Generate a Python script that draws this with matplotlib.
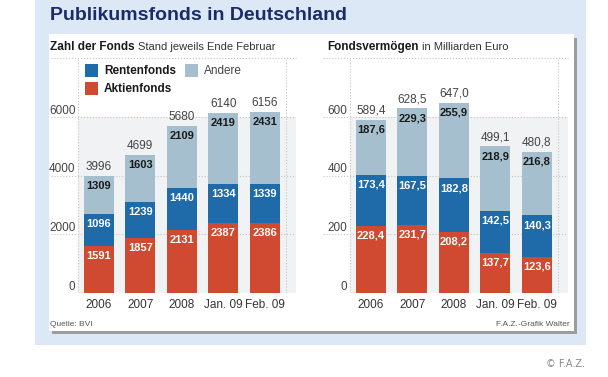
import matplotlib
matplotlib.use("Agg")
import matplotlib.pyplot as plt
from matplotlib.patches import Rectangle

# data
years = ["2006", "2007", "2008", "Jan. 09", "Feb. 09"]

fonds_aktien = [1591, 1857, 2131, 2387, 2386]
fonds_renten = [1096, 1239, 1440, 1334, 1339]
fonds_andere = [1309, 1603, 2109, 2419, 2431]
fonds_total = [3996, 4699, 5680, 6140, 6156]
fonds_ticks = [0, 2000, 4000, 6000]

verm_aktien = [228.4, 231.7, 208.2, 137.7, 123.6]
verm_renten = [173.4, 167.5, 182.8, 142.5, 140.3]
verm_andere = [187.6, 229.3, 255.9, 218.9, 216.8]
verm_total = [589.4, 628.5, 647.0, 499.1, 480.8]
verm_ticks = [0, 200, 400, 600]

RED = "#cf4a30"
BLUE = "#1f6aa8"
GREY = "#a5bfce"
NAVY = "#1b2a6b"
FONT = ["Liberation Sans Narrow", "Liberation Sans", "DejaVu Sans"]

W, H = 608, 377
fig = plt.figure(figsize=(W / 100, H / 100), dpi=100)
fig.patch.set_facecolor("white")


def px(x0, y0, x1, y1):
    # pixel box (top-left origin) -> figure fraction rect
    return [x0 / W, 1 - y1 / H, (x1 - x0) / W, (y1 - y0) / H]


def box(x0, y0, x1, y1, color, z=0):
    r = px(x0, y0, x1, y1)
    fig.patches.append(Rectangle((r[0], r[1]), r[2], r[3], transform=fig.transFigure,
                                 facecolor=color, edgecolor="none", zorder=z))


def ftext(x, y, s, **kw):
    kw.setdefault("family", FONT)
    return fig.text(x / W, 1 - y / H, s, **kw)


def text_after(t, gap, s, **kw):
    # place a second text right after t
    fig.canvas.draw()
    bb = t.get_window_extent()
    return ftext(bb.x1 + gap, 47, s, **kw)


# background panels
box(35, 0, 586, 345, "#dde8f6", 0)
box(52, 38, 577, 334, "#9c9c9c", 1)
box(49, 34, 574, 331, "white", 2)

ftext(50, 16, "Publikumsfonds in Deutschland", fontsize=14, weight="bold",
      color=NAVY, va="center", zorder=5)

t1 = ftext(50, 47, "Zahl der Fonds", fontsize=8.5, weight="bold", color="#1a1a1a",
           va="center", zorder=5)
text_after(t1, 3, "Stand jeweils Ende Februar", fontsize=8, color="#333333",
           va="center", zorder=5)
t2 = ftext(327, 47, "Fondsvermögen", fontsize=8.5, weight="bold", color="#1a1a1a",
           va="center", zorder=5)
text_after(t2, 3, "in Milliarden Euro", fontsize=8, color="#333333",
           va="center", zorder=5)

ftext(50, 324, "Quelle: BVI", fontsize=6, color="#555555", va="center", zorder=5)
ftext(570, 324, "F.A.Z.-Grafik Walter", fontsize=6, color="#555555",
      va="center", ha="right", zorder=5)
ftext(585, 364, "© F.A.Z.", fontsize=7, color="#888888", va="center", ha="right",
      family=["DejaVu Sans"])


def fmt(v, dec):
    if dec:
        return f"{v:.1f}".replace(".", ",")
    return str(v)


def draw(left, ymax, aktien, renten, andere, total, ticks, dec):
    ax = fig.add_axes(px(left, 58, left + 245, 293))
    ax.set_zorder(3)
    ax.patch.set_alpha(0)
    ax.set_xlim(-1.15, 4.75)
    ax.set_ylim(0, ymax)
    for s in ax.spines.values():
        s.set_visible(False)
    ax.set_xticks([])
    ax.set_yticks([])

    # plot area
    ax.add_patch(Rectangle((-0.5, 0), 5.25, ticks[-1], facecolor="#f1f2f3",
                           edgecolor="none", zorder=0))
    for t in ticks:
        ax.axhline(t, color="#c4c4c4", lw=0.8, ls=":", zorder=1)
        ax.text(-0.56, t, str(t), ha="right", va="bottom", fontsize=8.5,
                color="#444444", family=FONT)
    ax.axhline(ymax, color="#c4c4c4", lw=0.8, ls=":", zorder=1, clip_on=False)
    for xv in (-0.5, 4.5):
        ax.axvline(xv, color="#c4c4c4", lw=0.8, ls=":", zorder=1)

    x = list(range(len(years)))
    b1 = [a + r for a, r in zip(aktien, renten)]
    ax.bar(x, aktien, width=0.72, color=RED, zorder=2)
    ax.bar(x, renten, width=0.72, bottom=aktien, color=BLUE, zorder=2)
    ax.bar(x, andere, width=0.72, bottom=b1, color=GREY, zorder=2)

    for i in x:
        tops = [aktien[i], b1[i], b1[i] + andere[i]]
        vals = [aktien[i], renten[i], andere[i]]
        cols = ["white", "white", "#1a1a1a"]
        for top, v, c in zip(tops, vals, cols):
            ax.annotate(fmt(v, dec), (i, top), xytext=(0, -10), textcoords="offset pixels",
                        ha="center", va="center", fontsize=8, weight="bold",
                        color=c, family=FONT, zorder=4)
        ax.annotate(fmt(total[i], dec), (i, tops[2]), xytext=(0, 9),
                    textcoords="offset pixels", ha="center", va="center",
                    fontsize=8.5, color="#444444", family=FONT, zorder=4)
        ax.annotate(years[i], (i, 0), xytext=(0, -12), textcoords="offset pixels",
                    ha="center", va="center", fontsize=8.5, color="#333333",
                    family=FONT, annotation_clip=False)
    return ax


ax1 = draw(51, 8000, fonds_aktien, fonds_renten, fonds_andere, fonds_total,
           fonds_ticks, False)
draw(323, 800, verm_aktien, verm_renten, verm_andere, verm_total, verm_ticks, True)

# legend
legend_items = [("Rentenfonds", BLUE, 85, 64, "bold"),
                ("Aktienfonds", RED, 85, 82, "bold"),
                ("Andere", GREY, 185, 64, "normal")]
for name, col, lx, ly, w in legend_items:
    box(lx, ly, lx + 13, ly + 13, col, 6)
    ftext(lx + 19, ly + 6.5, name, fontsize=8.5, weight=w,
          color="#1a1a1a" if w == "bold" else "#444444", va="center", zorder=7)

fig.savefig("out.png", dpi=100)
